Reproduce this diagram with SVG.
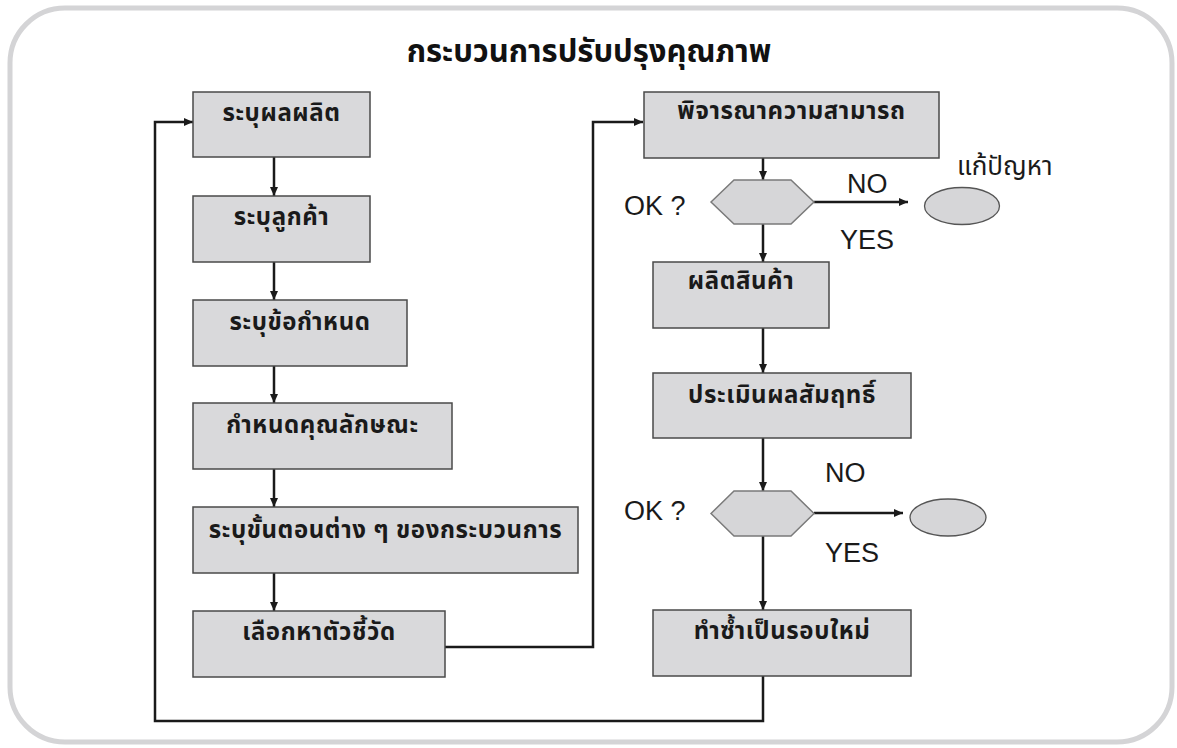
<svg xmlns="http://www.w3.org/2000/svg" width="1177" height="748" viewBox="0 0 1177 748">
<defs>
<style>
.box{fill:#d9d9db;stroke:#4a4a4a;stroke-width:1.5}
.hex{fill:#d6d6d8;stroke:#7a7a7a;stroke-width:1.5}
.ell{fill:#d6d6d8;stroke:#555;stroke-width:1.3}
.bt{font-family:"Noto Sans Thai","Noto Sans","DejaVu Sans",sans-serif;font-weight:bold;font-size:24px;letter-spacing:0.6px;fill:#1a1a1a;text-anchor:middle}
.lbl{font-family:"Liberation Sans","DejaVu Sans",sans-serif;font-size:27px;fill:#1a1a1a}
.th{font-family:"Noto Sans Thai","Noto Sans","DejaVu Sans",sans-serif;font-size:26px;fill:#1a1a1a}
.title{font-family:"Noto Sans Thai","Noto Sans","DejaVu Sans",sans-serif;font-weight:bold;font-size:31px;fill:#111;text-anchor:middle}
.conn{fill:none;stroke:#1a1a1a;stroke-width:2.5}
</style>
<marker id="ah" markerWidth="10" markerHeight="10" refX="9" refY="5" orient="auto" markerUnits="userSpaceOnUse">
<path d="M0,1 L9,5 L0,9 Z" fill="#1a1a1a"/>
</marker>
</defs>
<rect x="10" y="8" width="1162" height="734" rx="55" ry="55" fill="#fff" stroke="#d4d4d6" stroke-width="5"/>
<text class="title" x="589" y="62">กระบวนการปรับปรุงคุณภาพ</text>

<g id="connectors">
<line class="conn" x1="274" y1="157" x2="274" y2="196" marker-end="url(#ah)"/>
<line class="conn" x1="274" y1="262" x2="274" y2="300" marker-end="url(#ah)"/>
<line class="conn" x1="274" y1="366" x2="274" y2="403" marker-end="url(#ah)"/>
<line class="conn" x1="274" y1="469" x2="274" y2="507" marker-end="url(#ah)"/>
<line class="conn" x1="274" y1="573" x2="274" y2="611" marker-end="url(#ah)"/>
<polyline class="conn" points="445,647 593,647 593,122 643,122" marker-end="url(#ah)"/>
<line class="conn" x1="763" y1="158" x2="763" y2="180" marker-end="url(#ah)"/>
<line class="conn" x1="814" y1="202" x2="908" y2="202" marker-end="url(#ah)"/>
<line class="conn" x1="763" y1="224" x2="763" y2="262" marker-end="url(#ah)"/>
<line class="conn" x1="763" y1="328" x2="763" y2="373" marker-end="url(#ah)"/>
<line class="conn" x1="763" y1="438" x2="763" y2="491" marker-end="url(#ah)"/>
<line class="conn" x1="814" y1="513" x2="903" y2="513" marker-end="url(#ah)"/>
<line class="conn" x1="763" y1="536" x2="763" y2="610" marker-end="url(#ah)"/>
<polyline class="conn" points="763,676 763,721 155,721 155,122 193,122" marker-end="url(#ah)"/>
</g>

<g id="n1"><rect class="box" x="193" y="92" width="177" height="65"/><text class="bt" x="281.5" y="121">ระบุผลผลิต</text></g>
<g id="n2"><rect class="box" x="193" y="196" width="177" height="66"/><text class="bt" x="281.5" y="225">ระบุลูกค้า</text></g>
<g id="n3"><rect class="box" x="193" y="300" width="214" height="66"/><text class="bt" x="300" y="330">ระบุข้อกำหนด</text></g>
<g id="n4"><rect class="box" x="193" y="403" width="259" height="66"/><text class="bt" x="322.5" y="433">กำหนดคุณลักษณะ</text></g>
<g id="n5"><rect class="box" x="193" y="507" width="385" height="66"/><text class="bt" x="385.5" y="538">ระบุขั้นตอนต่าง ๆ ของกระบวนการ</text></g>
<g id="n6"><rect class="box" x="193" y="611" width="252" height="66"/><text class="bt" x="319" y="640">เลือกหาตัวชี้วัด</text></g>

<g id="r1"><rect class="box" x="644" y="92" width="295" height="66"/><text class="bt" x="791.5" y="119">พิจารณาความสามารถ</text></g>
<g id="d1"><polygon class="hex" points="711,202 734,180 791,180 814,202 791,224 734,224"/><text class="lbl" x="624" y="215">OK ?</text></g>
<g id="lbl-no1"><text class="lbl" x="847" y="193">NO</text><text class="lbl" x="840" y="249">YES</text></g>
<g id="e1"><ellipse class="ell" cx="962" cy="206" rx="37.5" ry="18.5"/><text class="th" x="957" y="175">แก้ปัญหา</text></g>
<g id="r2"><rect class="box" x="653" y="262" width="176" height="66"/><text class="bt" x="741" y="289">ผลิตสินค้า</text></g>
<g id="r3"><rect class="box" x="653" y="373" width="258" height="65"/><text class="bt" x="782" y="403">ประเมินผลสัมฤทธิ์</text></g>
<g id="d2"><polygon class="hex" points="711,513.5 734,491 791,491 814,513.5 791,536 734,536"/><text class="lbl" x="624" y="520">OK ?</text></g>
<g id="lbl-no2"><text class="lbl" x="825" y="482">NO</text><text class="lbl" x="825" y="562">YES</text></g>
<g id="e2"><ellipse class="ell" cx="948" cy="517.5" rx="38" ry="18.5"/></g>
<g id="r4"><rect class="box" x="653" y="610" width="258" height="66"/><text class="bt" x="782" y="639">ทำซ้ำเป็นรอบใหม่</text></g>
</svg>
